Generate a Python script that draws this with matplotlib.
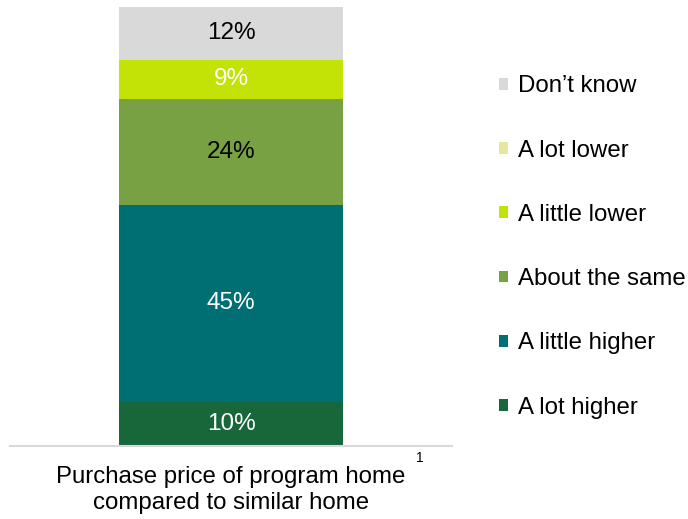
import matplotlib
import matplotlib.pyplot as plt

matplotlib.use('agg')
plt.rcParams['font.family'] = ['Liberation Sans', 'DejaVu Sans']

# data, bottom to top
categories = ['A lot higher', 'A little higher', 'About the same',
              'A little lower', 'A lot lower', "Don\u2019t know"]
values = [10, 45, 24, 9, 0, 12]
colors = ['#17673b', '#006f73', '#77a142', '#c3e205', '#e6e79f', '#d9d9d9']
label_colors = ['white', 'white', 'black', 'white', 'black', 'black']
bar_label = 'Purchase price of program home\ncompared to similar home'

fig = plt.figure(figsize=(6.88, 5.19), dpi=100)
ax = fig.add_axes([10 / 688, 1 - 446 / 519, 442 / 688, 439 / 519])

bottom = 0
handles = []
for cat, val, col, tc in zip(categories, values, colors, label_colors):
    h = ax.bar(0, val, width=0.507, bottom=bottom, color=col, label=cat)
    handles.append(h)
    if val > 0:
        ax.text(0, bottom + val / 2, f'{val}%', ha='center', va='center',
                fontsize=17.5, color=tc)
    bottom += val

ax.set_xlim(-0.5, 0.5)
ax.set_ylim(0, 100)
ax.set_xticks([])
ax.set_yticks([])
for s in ['top', 'right', 'left']:
    ax.spines[s].set_visible(False)
ax.spines['bottom'].set_color('#d9d9d9')
ax.spines['bottom'].set_linewidth(1.5)

# category label under the bar, with footnote marker
fig.text(231 / 688, 1 - 490 / 519, bar_label, ha='center', va='center',
         fontsize=17.3, linespacing=1.2)
fig.text(420 / 688, 1 - 458 / 519, '1', ha='center', va='center', fontsize=10)

leg = fig.legend(handles[::-1], categories[::-1], loc='center left',
                 bbox_to_anchor=(477 / 688, 1 - 247 / 519), frameon=False,
                 fontsize=17.3, handlelength=0.37, handleheight=0.37,
                 handletextpad=0.45, labelspacing=1.76)

fig.savefig('out.png', dpi=100)
